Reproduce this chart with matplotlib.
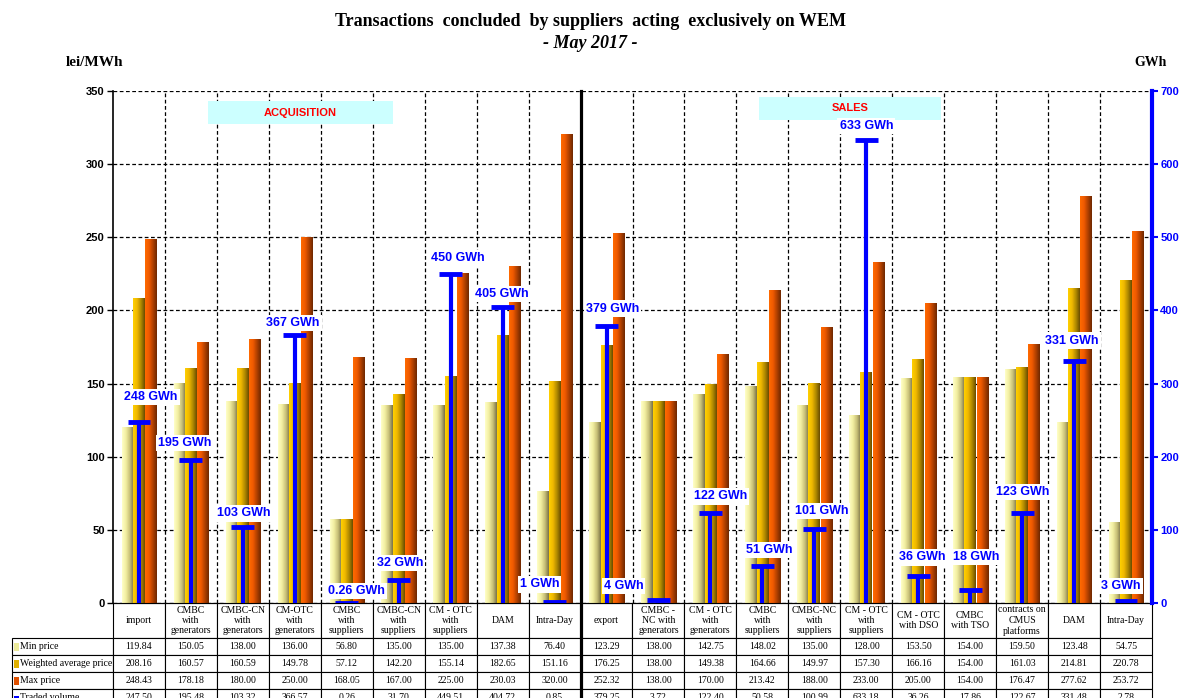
import numpy as np
import matplotlib.pyplot as plt
from matplotlib.colors import LinearSegmentedColormap
from matplotlib.patches import Rectangle

categories = ["import", "CMBC\nwith\ngenerators", "CMBC-CN\nwith\ngenerators", "CM-OTC\nwith\ngenerators",
              "CMBC\nwith\nsuppliers", "CMBC-CN\nwith\nsuppliers", "CM - OTC\nwith\nsuppliers", "DAM", "Intra-Day",
              "export", "CMBC -\nNC with\ngenerators", "CM - OTC\nwith\ngenerators", "CMBC\nwith\nsuppliers",
              "CMBC-NC\nwith\nsuppliers", "CM - OTC\nwith\nsuppliers", "CM - OTC\nwith DSO", "CMBC\nwith TSO",
              "contracts on\nCMUS\nplatforms", "DAM", "Intra-Day"]
min_price = [119.84, 150.05, 138.00, 136.00, 56.80, 135.00, 135.00, 137.38, 76.40,
             123.29, 138.00, 142.75, 148.02, 135.00, 128.00, 153.50, 154.00, 159.50, 123.48, 54.75]
wavg_price = [208.16, 160.57, 160.59, 149.78, 57.12, 142.20, 155.14, 182.65, 151.16,
              176.25, 138.00, 149.38, 164.66, 149.97, 157.30, 166.16, 154.00, 161.03, 214.81, 220.78]
max_price = [248.43, 178.18, 180.00, 250.00, 168.05, 167.00, 225.00, 230.03, 320.00,
             252.32, 138.00, 170.00, 213.42, 188.00, 233.00, 205.00, 154.00, 176.47, 277.62, 253.72]
volume = [247.50, 195.48, 103.32, 366.57, 0.26, 31.70, 449.51, 404.72, 0.85,
          379.25, 3.72, 122.40, 50.58, 100.99, 633.18, 36.26, 17.86, 122.67, 331.48, 2.78]
volume_labels = ["248 GWh", "195 GWh", "103 GWh", "367 GWh", "0.26 GWh", "32 GWh", "450 GWh", "405 GWh", "1 GWh",
                 "379 GWh", "4 GWh", "122 GWh", "51 GWh", "101 GWh", "633 GWh", "36 GWh", "18 GWh", "123 GWh",
                 "331 GWh", "3 GWh"]
row_labels = ["Min price", "Weighted average price", "Max price", "Traded volume"]

# label nudges in pixels (layout only)
label_dx = [12, -6, 1, -2, 10, 1, 7, -1, -15, 6, -35, 10, 7, 7, 0, 4, 6, 1, -2, -5]
label_dy = [25, 17, 14, 12, 12, 17, 16, 13, 18, 17, 14, 17, 16, 18, 14, 19, 33, 21, 20, 15]

W, H = 1181, 698
AW, AH = 1039, 512
fig = plt.figure(figsize=(W / 100, H / 100), dpi=100)
ax = fig.add_axes([113 / W, 1 - 603 / H, AW / W, AH / H])
x = np.arange(len(categories))

cm_min = LinearSegmentedColormap.from_list("mn", ["#ffffc8", "#f2eea0", "#c8c078", "#7a7248"])
cm_avg = LinearSegmentedColormap.from_list("av", ["#ffd000", "#f0b800", "#b08a00", "#6a4c00"])
cm_max = LinearSegmentedColormap.from_list("mx", ["#ff6a00", "#f05a00", "#b04000", "#6e2800"])

grad = np.linspace(0, 1, 64).reshape(1, -1)
bw = 0.225
for vals, off, cmap in [(min_price, -0.22, cm_min), (wavg_price, 0.0, cm_avg), (max_price, 0.235, cm_max)]:
    bars = ax.bar(x + off, vals, bw, color="none", zorder=2)
    for r in bars:
        ax.imshow(grad, extent=[r.get_x(), r.get_x() + r.get_width(), 0, r.get_height()],
                  aspect="auto", cmap=cmap, zorder=2, interpolation="bilinear")

ax.set_xlim(-0.5, len(categories) - 0.5)
ax.set_ylim(0, 350)
ax.set_aspect("auto")
ax.set_yticks(np.arange(0, 351, 50))
ax.set_xticks(np.arange(0.5, len(categories) - 1, 1))
ax.set_xticklabels([])
ax.tick_params(axis="x", length=0)
ax.tick_params(axis="y", length=4, width=1, pad=2)
for lb in ax.get_yticklabels():
    lb.set_fontfamily("Liberation Sans")
    lb.set_fontweight("bold")
    lb.set_fontsize(8)
ax.grid(True, color="black", linestyle=(0, (3, 2)), linewidth=0.9, zorder=1)
ax.set_axisbelow(True)
ax.spines["top"].set_visible(False)
ax.spines["right"].set_visible(False)
ax.spines["left"].set_linewidth(1.2)

# separator between acquisition and sales
ax.axvline(8.5, ymin=-0.201, ymax=1, color="black", lw=2.3, clip_on=False, zorder=20)

# traded volume on right axis
ax2 = ax.twinx()
ax2.set_ylim(0, 700)
ax2.set_yticks(np.arange(0, 701, 100))
ax2.vlines(x, 0, volume, color="#0000ff", lw=3, zorder=3)
ax2.hlines(volume, x - 0.22, x + 0.22, color="#0000ff", lw=3.5, zorder=3)
for i, v in enumerate(volume):
    ax2.annotate(volume_labels[i], (x[i], v), xytext=(label_dx[i] * 0.72, label_dy[i] * 0.72),
                 textcoords="offset points", ha="center", va="center", color="#0000ff",
                 fontsize=9, fontweight="bold", family="Liberation Sans", zorder=6,
                 bbox=dict(facecolor="white", edgecolor="none", pad=1.5))
for s in ["top", "left", "bottom"]:
    ax2.spines[s].set_visible(False)
ax2.spines["right"].set_color("#0000ff")
ax2.spines["right"].set_linewidth(3)
ax2.tick_params(axis="y", colors="#0000ff", length=4, width=1.5, pad=2)
for lb in ax2.get_yticklabels():
    lb.set_fontfamily("Liberation Sans")
    lb.set_fontweight("bold")
    lb.set_fontsize(8)

# section boxes
ax.add_patch(Rectangle((95 / AW, 479 / AH), 185 / AW, 23 / AH, transform=ax.transAxes,
                       facecolor="#ccffff", edgecolor="none", zorder=4))
ax.text(187 / AW, 490 / AH, "ACQUISITION", transform=ax.transAxes, ha="center", va="center",
        color="#ff0000", fontsize=8, fontweight="bold", family="Liberation Sans", zorder=5)
ax.add_patch(Rectangle((646 / AW, 483 / AH), 182 / AW, 23 / AH, transform=ax.transAxes,
                       facecolor="#ccffff", edgecolor="none", zorder=4))
ax.text(737 / AW, 495 / AH, "SALES", transform=ax.transAxes, ha="center", va="center",
        color="#ff0000", fontsize=8, fontweight="bold", family="Liberation Sans", zorder=5)

# data table (cell sizes given in axes units so the bbox needs no rescaling)
cell_text = [[f"{v:.2f}" for v in min_price], [f"{v:.2f}" for v in wavg_price],
             [f"{v:.2f}" for v in max_price], [f"{v:.2f}" for v in volume]]
tbl = ax.table(cellText=cell_text, colLabels=categories, cellLoc="center",
               bbox=[0, -103 / AH, 1, 103 / AH])
for i, lab in enumerate(row_labels):
    tbl.add_cell(i + 1, -1, width=101 / AW, height=17 / AH, text=lab, loc="left")
tbl.auto_set_font_size(False)
tbl.set_fontsize(7)
for (r, c), cell in tbl.get_celld().items():
    cell.set_width(101 / AW if c == -1 else 1 / len(categories))
    cell.set_height((35 if r == 0 else 17) / AH)
    cell.set_linewidth(0.8)
    t = cell.get_text()
    t.set_fontfamily("Liberation Serif")
    t.set_fontsize(7)
    if r == 0:
        t.set_linespacing(1.2)
    if c == -1:
        cell.PAD = 0.075

# legend keys in the row label column
keys = [("#ecea9a", 8), ("#e0b000", 8), ("#e05000", 8), ("#0000ff", 3)]
for i, (col, h) in enumerate(keys):
    yc = 646.5 + 17 * i
    fig.patches.append(Rectangle((13.5 / W, 1 - (yc + h / 2) / H), 5 / W, h / H, transform=fig.transFigure,
                                 facecolor=col, edgecolor="none", figure=fig))

fig.text(0.5, 1 - 22 / H, "Transactions  concluded  by suppliers  acting  exclusively on WEM", ha="center",
         va="center", fontsize=13, fontweight="bold", family="Liberation Serif")
fig.text(0.5, 1 - 44 / H, "- May 2017 -", ha="center", va="center", fontsize=13, fontweight="bold",
         style="italic", family="Liberation Serif")
fig.text(94 / W, 1 - 62 / H, "lei/MWh", ha="center", va="center", fontsize=11, fontweight="bold",
         family="Liberation Serif")
fig.text(1151 / W, 1 - 63 / H, "GWh", ha="center", va="center", fontsize=10, fontweight="bold",
         family="Liberation Serif")

fig.savefig("out.png", dpi=100)
